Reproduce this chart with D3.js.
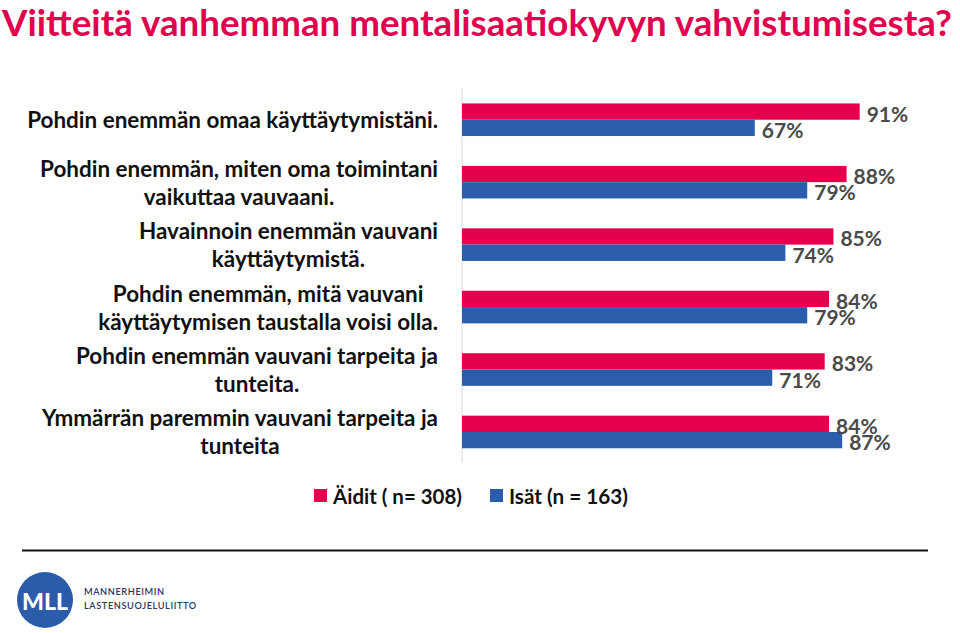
<!DOCTYPE html>
<html><head><meta charset="utf-8">
<script src="https://cdn.jsdelivr.net/npm/d3@7"></script>
<style>body{margin:0;background:#fff}svg{display:block}</style>
</head><body>
<svg id="c" width="960" height="633"></svg>
<script>
const title = "Viitteitä vanhemman mentalisaatiokyvyn vahvistumisesta?";
const categories = [
  ["Pohdin enemmän omaa käyttäytymistäni."],
  ["Pohdin enemmän, miten oma toimintani", "vaikuttaa vauvaani."],
  ["Havainnoin enemmän vauvani", "käyttäytymistä."],
  ["Pohdin enemmän, mitä vauvani", "käyttäytymisen taustalla voisi olla."],
  ["Pohdin enemmän vauvani tarpeita ja", "tunteita."],
  ["Ymmärrän paremmin vauvani tarpeita ja", "tunteita"]
];
const seriesNames = ["Äidit ( n= 308)", "Isät (n = 163)"];
const aiditValues = [0.91, 0.88, 0.85, 0.84, 0.83, 0.84];
const isatValues  = [0.67, 0.79, 0.74, 0.79, 0.71, 0.87];
const colors = ["#E4004F", "#2B5DAD"];
const logoLines = ["MANNERHEIMIN", "LASTENSUOJELULIITTO"];

const svg = d3.select("#c");
const FONT = "Lato, 'Open Sans', sans-serif";

function fit(sel, target) {
  const fs = parseFloat(sel.attr("font-size"));
  const w = sel.node().getComputedTextLength();
  sel.attr("font-size", fs * target / w);
  return fs * target / w;
}

// Title
const t = svg.append("text").attr("x", 2).attr("y", 36)
  .attr("font-family", FONT).attr("font-weight", 700).attr("font-size", 36)
  .attr("fill", "#E0004D").text(title);
fit(t, 950);

const idx = d3.range(categories.length);
const x = d3.scaleLinear().domain([0, 1]).range([462, 462 + 437]);
const y0 = d3.scaleBand().domain(idx).range([88.5, 463.2]).paddingInner(0.478).paddingOuter(0.239);
const y1 = d3.scaleBand().domain([0, 1]).range([0, y0.bandwidth()]);
const data = idx.map(i => [aiditValues[i], isatValues[i]]);

// axis line
svg.append("line").attr("x1", x(0)).attr("x2", x(0)).attr("y1", 88).attr("y2", 463)
  .attr("stroke", "#d9d9d9").attr("stroke-width", 1);

const g = svg.append("g");
const groups = g.selectAll("g.grp").data(data).join("g")
  .attr("transform", (d, i) => `translate(0,${y0(i)})`);
groups.selectAll("rect").data(d => d).join("rect")
  .attr("x", x(0)).attr("y", (d, j) => y1(j))
  .attr("width", d => x(d) - x(0)).attr("height", y1.bandwidth())
  .attr("fill", (d, j) => colors[j]);
groups.selectAll("text").data(d => d).join("text")
  .attr("x", d => x(d) + 7).attr("y", (d, j) => y1(j) + y1.bandwidth() / 2 + 1.5)
  .attr("dominant-baseline", "central")
  .attr("font-family", FONT).attr("font-weight", 700).attr("font-size", 21)
  .attr("fill", "#4a4a4a").text(d => Math.round(d * 100) + "%");

// category labels
const probe = svg.append("text").attr("font-family", FONT).attr("font-weight", 700)
  .attr("font-size", 20).text(categories[0][0]);
const catFs = fit(probe, 411);
probe.remove();
const lineH = 28;
categories.forEach((lines, i) => {
  const cy = y0(i) + y0.bandwidth() / 2;
  const txt = svg.append("text").attr("font-family", FONT).attr("font-weight", 700)
    .attr("font-size", catFs).attr("fill", "#111").attr("text-anchor", "middle");
  const tsp = lines.map((l, k) => txt.append("tspan").attr("y", cy + (k - (lines.length - 1) / 2) * lineH)
    .attr("dominant-baseline", "central").text(l));
  const maxW = d3.max(tsp, s => s.node().getComputedTextLength());
  tsp.forEach(s => s.attr("x", 438 - maxW / 2));
});

// legend
const legX = [314, 490];
seriesNames.forEach((n, j) => {
  svg.append("rect").attr("x", legX[j]).attr("y", 489).attr("width", 13).attr("height", 13).attr("fill", colors[j]);
  const lt = svg.append("text").attr("x", legX[j] + 19).attr("y", 496).attr("dominant-baseline", "central")
    .attr("font-family", FONT).attr("font-weight", 700).attr("font-size", 20).attr("fill", "#111").text(n);
  fit(lt, j === 0 ? 129 : 119);
});

// separator line
svg.append("line").attr("x1", 22).attr("x2", 928).attr("y1", 550.5).attr("y2", 550.5)
  .attr("stroke", "#111").attr("stroke-width", 2);

// logo
svg.append("circle").attr("cx", 45).attr("cy", 600).attr("r", 28).attr("fill", "#2A5CAA");
const mll = svg.append("text").attr("x", 45).attr("y", 601).attr("text-anchor", "middle")
  .attr("dominant-baseline", "central").attr("font-family", FONT).attr("font-weight", 900)
  .attr("font-size", 26).attr("fill", "#fff").text("MLL");
fit(mll, 46);
const logoTexts = logoLines.map((l, k) => svg.append("text").attr("x", 84).attr("y", 595 + k * 14)
    .attr("font-family", FONT).attr("font-weight", 600).attr("font-size", 11)
    .attr("letter-spacing", 0.6).attr("fill", "#2d3560").text(l));
const lfs = fit(logoTexts[1], 111);
logoTexts[0].attr("font-size", lfs);
</script>
</body></html>
